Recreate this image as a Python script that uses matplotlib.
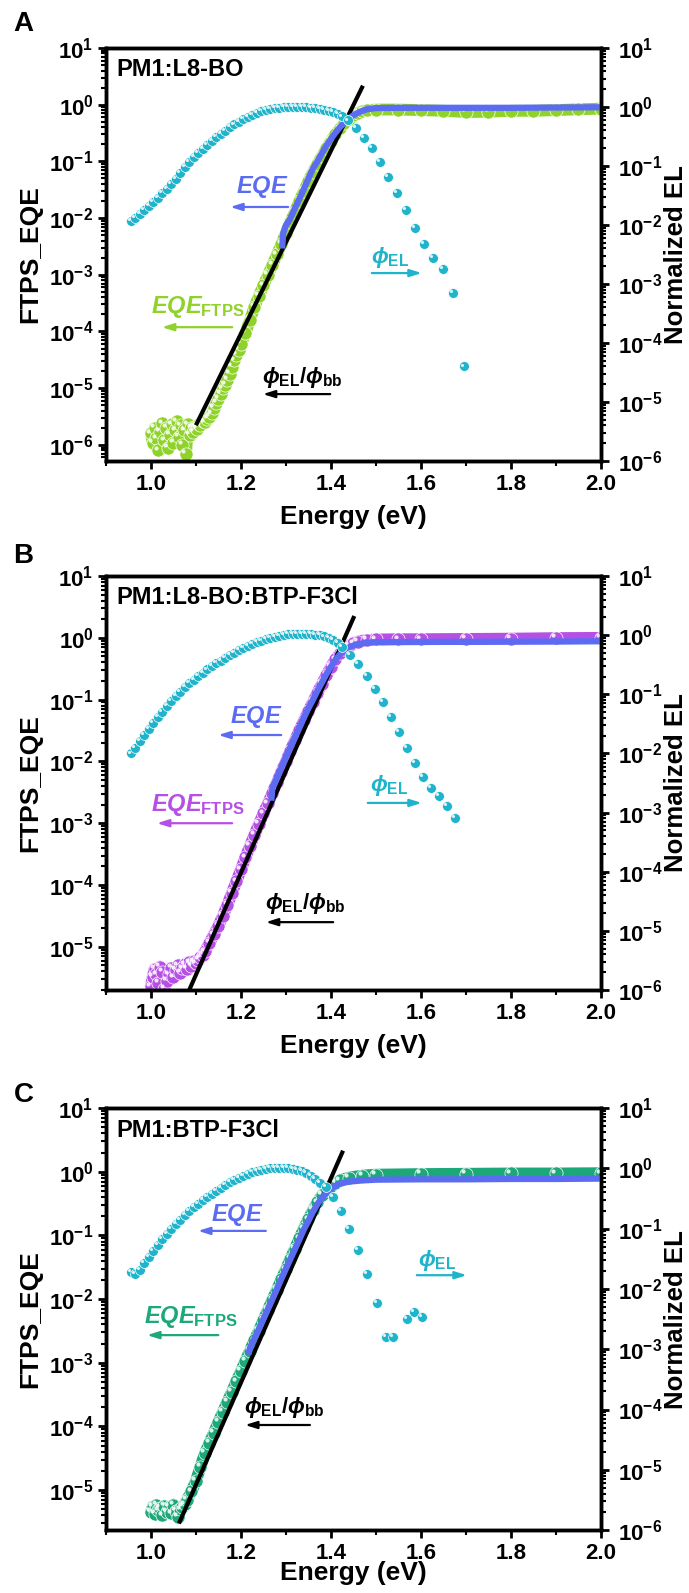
import matplotlib
matplotlib.use("Agg")
import matplotlib.pyplot as plt
from matplotlib import transforms
from matplotlib.ticker import LogLocator, LogFormatterMathtext, MultipleLocator, NullFormatter

plt.rcParams.update({
    "font.family": ["Liberation Sans", "DejaVu Sans"],
    "font.weight": "bold",
    "mathtext.fontset": "custom",
    "mathtext.rm": "Liberation Sans:bold",
    "mathtext.it": "Liberation Sans:italic:bold",
    "mathtext.bf": "Liberation Sans:bold",
    "mathtext.sf": "Liberation Sans:bold",
})

CYAN = "#1fb4cb"
BLUE = "#5b6cf2"
GREEN = "#8ed22a"
PURPLE = "#b64fe6"
TEAL = "#1ca878"

# ---------------- panel A : PM1:L8-BO ----------------
el_a_e = [0.955, 0.965, 0.975, 0.985, 0.995, 1.005, 1.015, 1.025, 1.035, 1.045,
          1.055, 1.065, 1.075, 1.085, 1.095, 1.105, 1.115, 1.125, 1.135, 1.145,
          1.155, 1.165, 1.175, 1.185, 1.195, 1.205, 1.215, 1.225, 1.235, 1.245,
          1.255, 1.265, 1.275, 1.285, 1.295, 1.305, 1.315, 1.325, 1.335, 1.345,
          1.355, 1.365, 1.375, 1.385, 1.395, 1.405, 1.415, 1.425,
          1.438, 1.456, 1.473, 1.491, 1.509, 1.527, 1.547, 1.567, 1.587, 1.607,
          1.627, 1.649, 1.671, 1.695]
el_a_v = [0.0115, 0.0132, 0.0152, 0.0178, 0.021, 0.0248, 0.0292, 0.0345, 0.041, 0.049,
          0.060, 0.076, 0.096, 0.118, 0.142, 0.168, 0.196, 0.228, 0.265, 0.305,
          0.350, 0.398, 0.450, 0.505, 0.565, 0.625, 0.685, 0.745, 0.800, 0.850,
          0.893, 0.928, 0.955, 0.975, 0.990, 0.998, 1.000, 0.998, 0.992, 0.982,
          0.968, 0.950, 0.926, 0.896, 0.860, 0.815, 0.760, 0.690,
          0.59, 0.44, 0.30, 0.20, 0.115, 0.066, 0.035, 0.018, 0.009, 0.0048,
          0.0028, 0.0018, 0.0007, 0.00004]

ftps_a_e = [1.000, 1.004, 1.008, 1.012, 1.016, 1.020, 1.025, 1.030, 1.034, 1.038,
            1.042, 1.046, 1.050, 1.054, 1.058, 1.062, 1.066, 1.070, 1.074, 1.078,
            1.082, 1.086, 1.090, 1.094, 1.098, 1.102, 1.106, 1.110, 1.115, 1.120,
            1.125, 1.130, 1.135, 1.140, 1.145, 1.150, 1.155, 1.160, 1.165, 1.170,
            1.175, 1.180, 1.185, 1.190, 1.195, 1.200, 1.21, 1.22, 1.23, 1.24,
            1.25, 1.26, 1.27, 1.28, 1.29, 1.30, 1.31, 1.32, 1.33, 1.34,
            1.35, 1.36, 1.37, 1.38, 1.39, 1.40, 1.41, 1.42, 1.43, 1.44,
            1.45, 1.46, 1.47, 1.48, 1.50, 1.55, 1.60, 1.65, 1.70, 1.75,
            1.80, 1.85, 1.90, 1.95, 2.00]
ftps_a_v = [1.6e-6, 1.1e-6, 2.0e-6, 1.3e-6, 8e-7, 1.7e-6, 2.4e-6, 1.2e-6, 2.0e-6, 9e-7,
            1.5e-6, 2.3e-6, 1.1e-6, 1.8e-6, 2.6e-6, 1.4e-6, 2.2e-6, 1.0e-6, 1.8e-6, 7e-7,
            2.3e-6, 1.5e-6, 2.0e-6, 1.7e-6, 2.1e-6, 1.9e-6, 2.3e-6, 2.2e-6, 2.6e-6, 2.5e-6,
            2.9e-6, 3.1e-6, 3.6e-6, 4.5e-6, 5.5e-6, 6.5e-6, 8e-6, 1.0e-5, 1.15e-5, 1.4e-5,
            1.8e-5, 2.4e-5, 3.1e-5, 3.9e-5, 4.8e-5, 6e-5, 9.5e-5, 1.6e-4, 2.7e-4, 4.3e-4,
            6.5e-4, 1.0e-3, 1.5e-3, 2.3e-3, 3.5e-3, 5.5e-3, 8.5e-3, 1.3e-2, 2.0e-2, 3.0e-2,
            4.5e-2, 6.5e-2, 9e-2, 0.125, 0.17, 0.23, 0.30, 0.38, 0.47, 0.56,
            0.65, 0.72, 0.77, 0.80, 0.82, 0.82, 0.80, 0.78, 0.74, 0.75,
            0.78, 0.78, 0.80, 0.83, 0.85]

eqe_a_e = [1.292, 1.294, 1.300, 1.305, 1.310, 1.32, 1.33, 1.34, 1.35, 1.36,
           1.37, 1.38, 1.39, 1.40, 1.41, 1.42, 1.43, 1.44, 1.45, 1.46,
           1.47, 1.48, 1.50, 1.55, 1.60, 1.70, 1.80, 1.90, 2.00]
eqe_a_v = [3.3e-3, 5.5e-3, 7.5e-3, 8.5e-3, 1.0e-2, 1.5e-2, 2.2e-2, 3.3e-2, 5.0e-2, 7.5e-2,
           0.10, 0.14, 0.19, 0.25, 0.32, 0.40, 0.48, 0.57, 0.65, 0.72,
           0.78, 0.83, 0.87, 0.88, 0.88, 0.88, 0.88, 0.89, 0.90]

bb_a_e = [1.102, 1.469]
bb_a_v = [2.4e-6, 2.0]

# ---------------- panel B : PM1:L8-BO:BTP-F3Cl ----------------
el_b_e = [0.955, 0.965, 0.975, 0.985, 0.995, 1.005, 1.015, 1.025, 1.035, 1.045,
          1.055, 1.065, 1.075, 1.085, 1.095, 1.105, 1.115, 1.125, 1.135, 1.145,
          1.155, 1.165, 1.175, 1.185, 1.195, 1.205, 1.215, 1.225, 1.235, 1.245,
          1.255, 1.265, 1.275, 1.285, 1.295, 1.305, 1.315, 1.325, 1.335, 1.345,
          1.355, 1.365, 1.375, 1.385, 1.395, 1.405, 1.415,
          1.425, 1.443, 1.461, 1.479, 1.497, 1.515, 1.533, 1.551, 1.569, 1.587,
          1.605, 1.622, 1.640, 1.658, 1.675]
el_b_v = [0.0100, 0.0125, 0.016, 0.0205, 0.026, 0.033, 0.041, 0.051, 0.063, 0.077,
          0.093, 0.111, 0.131, 0.153, 0.177, 0.203, 0.232, 0.263, 0.297, 0.334,
          0.373, 0.415, 0.460, 0.507, 0.556, 0.607, 0.658, 0.710, 0.762, 0.812,
          0.860, 0.905, 0.945, 0.980, 1.010, 1.035, 1.052, 1.062, 1.065, 1.060,
          1.046, 1.024, 0.992, 0.950, 0.895, 0.830, 0.740,
          0.64, 0.47, 0.32, 0.205, 0.125, 0.073, 0.041, 0.023, 0.0125, 0.0068,
          0.0040, 0.0026, 0.0019, 0.0013, 0.00082]

ftps_b_e = [1.000, 1.004, 1.008, 1.012, 1.016, 1.020, 1.025, 1.030, 1.035, 1.040,
            1.045, 1.050, 1.055, 1.060, 1.065, 1.070, 1.075, 1.080, 1.085, 1.090,
            1.095, 1.100, 1.105, 1.110, 1.115, 1.12, 1.13, 1.14, 1.15, 1.16,
            1.17, 1.18, 1.19, 1.20, 1.21, 1.22, 1.23, 1.24, 1.25, 1.26,
            1.27, 1.28, 1.29, 1.30, 1.31, 1.32, 1.33, 1.34, 1.35, 1.36,
            1.37, 1.38, 1.39, 1.40, 1.41, 1.42, 1.43, 1.44, 1.45, 1.46,
            1.48, 1.50, 1.55, 1.60, 1.70, 1.80, 1.90, 2.00]
ftps_b_v = [2.3e-6, 3.3e-6, 4.4e-6, 3.6e-6, 2.6e-6, 4.8e-6, 3.9e-6, 2.1e-6, 2.8e-6, 3.6e-6,
            4.6e-6, 3.2e-6, 4.3e-6, 5.0e-6, 3.8e-6, 4.5e-6, 5.2e-6, 4.4e-6, 5.6e-6, 4.9e-6,
            5.8e-6, 5.4e-6, 6.2e-6, 6.8e-6, 7.4e-6, 8.5e-6, 1.15e-5, 1.6e-5, 2.2e-5, 3.2e-5,
            4.8e-5, 7.5e-5, 1.15e-4, 1.8e-4, 2.8e-4, 4.3e-4, 6.5e-4, 9.7e-4, 1.45e-3, 2.1e-3,
            3.1e-3, 4.6e-3, 6.8e-3, 1.0e-2, 1.5e-2, 2.2e-2, 3.2e-2, 4.6e-2, 6.5e-2, 9.2e-2,
            0.13, 0.18, 0.25, 0.34, 0.45, 0.56, 0.66, 0.75, 0.82, 0.87,
            0.92, 0.94, 0.95, 0.95, 0.96, 0.97, 0.99, 1.00]

eqe_b_e = [1.268, 1.270, 1.275, 1.28, 1.29, 1.30, 1.31, 1.32, 1.33, 1.34,
           1.35, 1.36, 1.37, 1.38, 1.39, 1.40, 1.41, 1.42, 1.43, 1.44,
           1.45, 1.46, 1.48, 1.50, 1.60, 1.70, 1.80, 1.90, 2.00]
eqe_b_v = [2.6e-3, 3.8e-3, 4.5e-3, 5.5e-3, 8e-3, 1.2e-2, 1.7e-2, 2.5e-2, 3.6e-2, 5.2e-2,
           7.3e-2, 0.10, 0.14, 0.19, 0.26, 0.34, 0.44, 0.54, 0.63, 0.70,
           0.75, 0.79, 0.83, 0.85, 0.86, 0.86, 0.87, 0.87, 0.88]

bb_b_e = [1.085, 1.45]
bb_b_v = [2.0e-6, 2.1]

# ---------------- panel C : PM1:BTP-F3Cl ----------------
el_c_e = [0.955, 0.965, 0.975, 0.985, 0.995, 1.005, 1.015, 1.025, 1.035, 1.045,
          1.055, 1.065, 1.075, 1.085, 1.095, 1.105, 1.115, 1.125, 1.135, 1.145,
          1.155, 1.165, 1.175, 1.185, 1.195, 1.205, 1.215, 1.225, 1.235, 1.245,
          1.255, 1.265, 1.275, 1.285, 1.295, 1.305, 1.315, 1.325, 1.335, 1.345,
          1.355, 1.365, 1.375,
          1.390, 1.405, 1.423, 1.441, 1.460, 1.480, 1.503, 1.522, 1.538, 1.568,
          1.585, 1.602]
el_c_v = [0.019, 0.018, 0.021, 0.027, 0.034, 0.043, 0.054, 0.067, 0.082, 0.099,
          0.119, 0.141, 0.166, 0.194, 0.225, 0.259, 0.296, 0.337, 0.381, 0.428,
          0.478, 0.530, 0.584, 0.640, 0.696, 0.752, 0.806, 0.857, 0.903, 0.944,
          0.979, 1.006, 1.024, 1.032, 1.030, 1.017, 0.992, 0.954, 0.903, 0.838,
          0.760, 0.670, 0.575,
          0.50, 0.34, 0.20, 0.10, 0.045, 0.018, 0.0058, 0.0016, 0.0016, 0.0032,
          0.0042, 0.0034]

ftps_c_e = [1.000, 1.004, 1.008, 1.012, 1.016, 1.020, 1.025, 1.030, 1.035, 1.040,
            1.045, 1.050, 1.055, 1.060, 1.065, 1.070, 1.075, 1.08, 1.09, 1.10,
            1.11, 1.12, 1.13, 1.14, 1.15, 1.16, 1.17, 1.18, 1.19, 1.20,
            1.21, 1.22, 1.23, 1.24, 1.25, 1.26, 1.27, 1.28, 1.29, 1.30,
            1.31, 1.32, 1.33, 1.34, 1.35, 1.36, 1.37, 1.38, 1.39, 1.40,
            1.41, 1.42, 1.44, 1.47, 1.50, 1.60, 1.70, 1.80, 1.90, 2.00]
ftps_c_v = [4.5e-6, 5.5e-6, 4.2e-6, 5.8e-6, 4.8e-6, 5.2e-6, 4.0e-6, 5.6e-6, 4.6e-6, 5.4e-6,
            4.3e-6, 5.9e-6, 4.7e-6, 3.8e-6, 5.0e-6, 5.5e-6, 6.0e-6, 7.0e-6, 9.5e-6, 1.4e-5,
            2.3e-5, 3.8e-5, 5.5e-5, 8.0e-5, 1.17e-4, 1.7e-4, 2.45e-4, 3.5e-4, 5.1e-4, 7.4e-4,
            1.07e-3, 1.55e-3, 2.25e-3, 3.2e-3, 4.7e-3, 6.8e-3, 9.8e-3, 1.4e-2, 2.05e-2, 2.95e-2,
            4.3e-2, 6.2e-2, 9.0e-2, 0.13, 0.18, 0.25, 0.33, 0.43, 0.52, 0.60,
            0.67, 0.73, 0.81, 0.87, 0.90, 0.92, 0.93, 0.94, 0.94, 0.95]

eqe_c_e = [1.218, 1.22, 1.23, 1.24, 1.25, 1.26, 1.27, 1.28, 1.29, 1.30,
           1.31, 1.32, 1.33, 1.34, 1.35, 1.36, 1.37, 1.38, 1.39, 1.40,
           1.41, 1.42, 1.44, 1.47, 1.50, 1.60, 1.70, 1.80, 1.90, 2.00]
eqe_c_v = [1.5e-3, 1.7e-3, 2.4e-3, 3.4e-3, 4.9e-3, 7.0e-3, 1.0e-2, 1.45e-2, 2.1e-2, 3.0e-2,
           4.3e-2, 6.1e-2, 8.7e-2, 0.125, 0.17, 0.235, 0.31, 0.39, 0.47, 0.54,
           0.60, 0.65, 0.70, 0.73, 0.75, 0.76, 0.76, 0.77, 0.77, 0.78]

bb_c_e = [1.064, 1.425]
bb_c_v = [3.2e-6, 2.0]

panels = [
    dict(letter="A", title="PM1:L8-BO", rect=[0.1538, 0.7106, 0.7184, 0.2593],
         ylim=(5.2e-7, 10), fcolor=GREEN, xlab_y=-0.107,
         el=(el_a_e, el_a_v), ftps=(ftps_a_e, ftps_a_v), eqe=(eqe_a_e, eqe_a_v),
         bb=(bb_a_e, bb_a_v),
         eqe_txt=(0.315, 0.663), eqe_arr=(0.368, 0.251, 0.615),
         ftps_txt=(0.186, 0.373), ftps_arr=(0.255, 0.113, 0.324),
         bb_txt=(0.396, 0.203), bb_arr=(0.453, 0.317, 0.162),
         el_txt=(0.574, 0.492), el_arr=(0.537, 0.638, 0.455)),
    dict(letter="B", title="PM1:L8-BO:BTP-F3Cl", rect=[0.1538, 0.3785, 0.7184, 0.2599],
         ylim=(2e-6, 10), fcolor=PURPLE, xlab_y=-0.107,
         el=(el_b_e, el_b_v), ftps=(ftps_b_e, ftps_b_v), eqe=(eqe_b_e, eqe_b_v),
         bb=(bb_b_e, bb_b_v),
         eqe_txt=(0.303, 0.66), eqe_arr=(0.354, 0.227, 0.616),
         ftps_txt=(0.186, 0.447), ftps_arr=(0.255, 0.103, 0.403),
         bb_txt=(0.402, 0.208), bb_arr=(0.459, 0.323, 0.164),
         el_txt=(0.572, 0.495), el_arr=(0.529, 0.638, 0.452)),
    dict(letter="C", title="PM1:BTP-F3Cl", rect=[0.1538, 0.0395, 0.7184, 0.2649],
         ylim=(2.35e-6, 10), fcolor=TEAL, xlab_y=-0.074,
         el=(el_c_e, el_c_v), ftps=(ftps_c_e, ftps_c_v), eqe=(eqe_c_e, eqe_c_v),
         bb=(bb_c_e, bb_c_v),
         eqe_txt=(0.265, 0.746), eqe_arr=(0.323, 0.186, 0.709),
         ftps_txt=(0.172, 0.505), ftps_arr=(0.227, 0.083, 0.462),
         bb_txt=(0.36, 0.291), bb_arr=(0.412, 0.281, 0.249),
         el_txt=(0.669, 0.640), el_arr=(0.628, 0.729, 0.604)),
]
letter_y = [0.985, 0.651, 0.3126]


def spheres(ax, fig, x, y, color, s, z):
    ax.scatter(x, y, s=s, c=color, edgecolors="white", linewidths=0.5, zorder=z)
    r = s ** 0.5 * 0.2
    tr = transforms.offset_copy(ax.transData, fig=fig, x=-r, y=r, units="points")
    ax.scatter(x, y, s=s * 0.1, c="white", alpha=0.85, linewidths=0,
               transform=tr, zorder=z + 0.1)


def style_log_axis(axis):
    axis.set_major_locator(LogLocator(base=10, numticks=20))
    axis.set_minor_locator(LogLocator(base=10, subs=range(2, 10), numticks=20))
    axis.set_major_formatter(LogFormatterMathtext())
    axis.set_minor_formatter(NullFormatter())


def arrow(ax, x0, x1, y, color):
    ax.annotate("", xy=(x1, y), xytext=(x0, y), xycoords="axes fraction",
                arrowprops=dict(arrowstyle="-|>,head_length=0.7,head_width=0.22",
                                color=color, lw=1.6, shrinkA=0, shrinkB=0))


fig = plt.figure(figsize=(6.89, 15.93), dpi=100)

for p, ly in zip(panels, letter_y):
    ax = fig.add_axes(p["rect"])
    ax2 = ax.twinx()
    ax.set_yscale("log")
    ax2.set_yscale("log")
    ax.set_xlim(0.9, 2.0)
    ax.set_ylim(*p["ylim"])
    ax2.set_ylim(1e-6, 10)

    fe, fv = p["ftps"]
    ax.plot(fe, fv, "-", color=p["fcolor"], lw=8.5, solid_capstyle="round", zorder=2)
    spheres(ax, fig, fe, fv, p["fcolor"], 90, 2.5)

    be, bv = p["bb"]
    ax.plot(be, bv, "-", color="black", lw=3, zorder=3)

    qe, qv = p["eqe"]
    ax.plot(qe, qv, "-", color=BLUE, lw=4.5, zorder=4)

    ee, ev = p["el"]
    spheres(ax2, fig, ee, ev, CYAN, 50, 5)

    for a in (ax, ax2):
        for sp in a.spines.values():
            sp.set_linewidth(2.5)
    style_log_axis(ax.yaxis)
    style_log_axis(ax2.yaxis)
    ax.xaxis.set_major_locator(MultipleLocator(0.2))
    ax.xaxis.set_minor_locator(MultipleLocator(0.1))
    ax.tick_params(which="major", direction="out", length=6, width=2, labelsize=16,
                   top=False, right=False, pad=3)
    ax.tick_params(which="minor", direction="out", length=3.5, width=1.5,
                   top=False, right=False)
    ax2.tick_params(which="major", direction="out", length=6, width=2, labelsize=16, pad=6)
    ax2.tick_params(which="minor", direction="out", length=3.5, width=1.5)

    ax.set_xlabel("Energy (eV)", fontsize=19, fontweight="bold")
    ax.set_ylabel("FTPS_EQE", fontsize=19, fontweight="bold")
    ax2.set_ylabel("Normalized EL", fontsize=18.5, fontweight="bold")
    ax.xaxis.set_label_coords(0.5, p["xlab_y"])
    ax.yaxis.set_label_coords(-0.128, 0.5)
    ax2.yaxis.set_label_coords(1.127, 0.5)

    ax2.text(0.022, 0.947, p["title"], transform=ax.transAxes,
             fontsize=17, fontweight="bold", va="center", ha="left")

    ax2.text(*p["eqe_txt"], r"$EQE$", color=BLUE, transform=ax.transAxes,
             fontsize=17, ha="center", va="center")
    arrow(ax2, p["eqe_arr"][0], p["eqe_arr"][1], p["eqe_arr"][2], BLUE)
    ax2.text(*p["ftps_txt"], r"$EQE_{\mathrm{FTPS}}$", color=p["fcolor"],
             transform=ax.transAxes, fontsize=17, ha="center", va="center")
    arrow(ax2, p["ftps_arr"][0], p["ftps_arr"][1], p["ftps_arr"][2], p["fcolor"])
    ax2.text(*p["bb_txt"], r"$\phi_{\mathrm{EL}}/\phi_{\mathrm{bb}}$", color="black",
             transform=ax.transAxes, fontsize=16, ha="center", va="center")
    arrow(ax2, p["bb_arr"][0], p["bb_arr"][1], p["bb_arr"][2], "black")
    ax2.text(*p["el_txt"], r"$\phi_{\mathrm{EL}}$", color=CYAN,
             transform=ax.transAxes, fontsize=16, ha="center", va="center")
    arrow(ax2, p["el_arr"][0], p["el_arr"][1], p["el_arr"][2], CYAN)

    fig.text(0.034, ly, p["letter"], fontsize=20, fontweight="bold",
             ha="center", va="center")

fig.savefig("out.png", dpi=100)
